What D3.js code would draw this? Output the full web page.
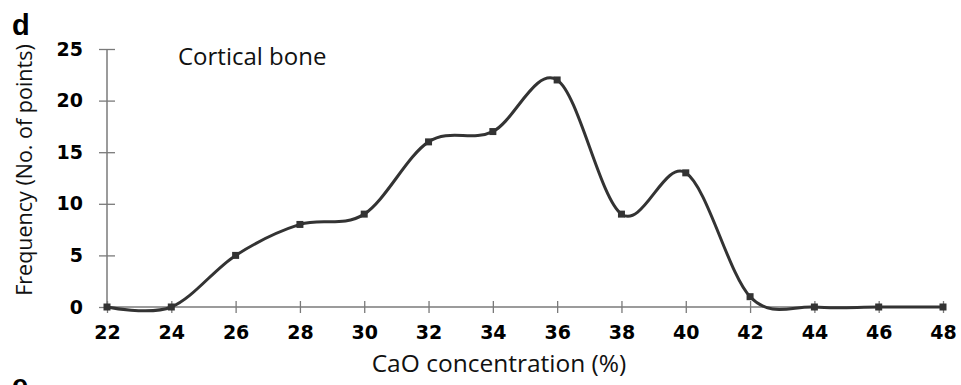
<!DOCTYPE html>
<html><head><meta charset="utf-8">
<script src="https://cdn.jsdelivr.net/npm/d3@7"></script>
<style>body{margin:0;background:#fff}svg{display:block}</style>
</head><body>
<svg id="c" width="961" height="385"></svg>
<script>
const xValues = [22,24,26,28,30,32,34,36,38,40,42,44,46,48];
const frequency = [0,0,5,8,9,16,17,22,9,13,1,0,0,0];
const yTicks = [0,5,10,15,20,25];
const xTicks = [22,24,26,28,30,32,34,36,38,40,42,44,46,48];

const svg = d3.select("#c");
const x = d3.scaleLinear().domain([22,48]).range([107,943]);
const y = d3.scaleLinear().domain([0,25]).range([307,49]);
const axisColor = "#7a7a7a";
const tickFont = "DejaVu Sans, Verdana, sans-serif";

// y axis
const ya = svg.append("g").attr("transform","translate(107,0)")
  .call(d3.axisLeft(y).tickValues(yTicks).tickSize(8).tickPadding(16));
ya.select(".domain").remove();
ya.selectAll(".tick line").attr("x2",8).attr("x1",-8).attr("stroke",axisColor).attr("stroke-width",1.3);
ya.append("line").attr("y1",y(25)).attr("y2",y(0)).attr("stroke",axisColor).attr("stroke-width",1.5);
ya.selectAll(".tick text").attr("font-family",tickFont)
  .attr("font-weight","bold").attr("font-size",19).attr("fill","#000");

// x axis
const xa = svg.append("g").attr("transform","translate(0,307)")
  .call(d3.axisBottom(x).tickValues(xTicks).tickSize(6).tickPadding(13));
xa.select(".domain").remove();
xa.selectAll(".tick line").attr("y1",-6).attr("y2",6).attr("stroke",axisColor).attr("stroke-width",1.3);
xa.append("line").attr("x1",x(22)).attr("x2",x(48)).attr("stroke",axisColor).attr("stroke-width",1.5);
xa.selectAll(".tick text").attr("font-family",tickFont)
  .attr("font-weight","bold").attr("font-size",19).attr("fill","#000");

// line
const pts = xValues.map((v,i)=>[v,frequency[i]]);
const line = d3.line().x(d=>x(d[0])).y(d=>y(d[1])).curve(d3.curveCardinal.tension(0));
svg.append("path").datum(pts).attr("d",line).attr("fill","none")
  .attr("stroke","#333").attr("stroke-width",3);
svg.selectAll("rect.m").data(pts).join("rect").attr("class","m")
  .attr("x",d=>x(d[0])-3.5).attr("y",d=>y(d[1])-3.5).attr("width",7).attr("height",7)
  .attr("fill","#333");

// texts
svg.append("text").attr("x",178).attr("y",65).text("Cortical bone")
  .attr("font-family","Open Sans, sans-serif").attr("font-size",24).attr("fill","#111");
svg.append("text").attr("transform","translate(32,170) rotate(-90)").attr("text-anchor","middle")
  .text("Frequency (No. of points)").attr("font-family","Open Sans, sans-serif")
  .attr("font-size",21.5).attr("fill","#111");
svg.append("text").attr("x",499).attr("y",372).attr("text-anchor","middle")
  .text("CaO concentration (%)").attr("font-family","Open Sans, sans-serif")
  .attr("font-size",24.5).attr("fill","#111");
svg.append("text").attr("x",12).attr("y",35).text("d")
  .attr("font-family","Liberation Sans, Arial, sans-serif").attr("font-weight","bold").attr("font-size",29);
svg.append("text").attr("x",12).attr("y",395).text("e")
  .attr("font-family","Liberation Sans, Arial, sans-serif").attr("font-weight","bold").attr("font-size",29);
</script>
</body></html>
